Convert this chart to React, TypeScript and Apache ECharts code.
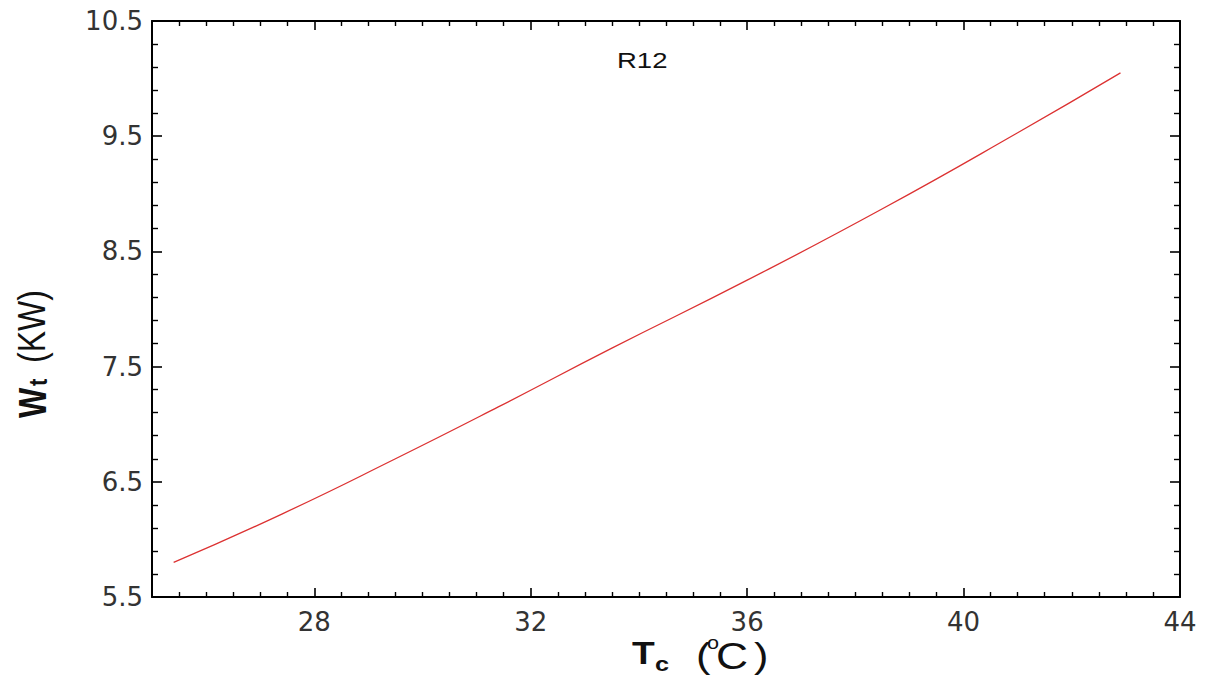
import React, { useEffect, useRef } from "react";
import * as echarts from "echarts";

// Condensing temperature Tc (°C) and turbine work Wt (kW) for R12
const tcValues = [25.4, 27.4, 29.5, 31.4, 33.5, 36.0, 38.5, 41.0, 42.9];
const wtValues = [5.8, 6.22, 6.7, 7.15, 7.66, 8.25, 8.87, 9.53, 10.05];

// Axis ranges and labelled ticks
const xTicks = [28, 32, 36, 40, 44];
const xRange = [25, 44];
const yTicks = [5.5, 6.5, 7.5, 8.5, 9.5, 10.5];

const fluidName = "R12";

const TEXT_FONT = "Liberation Sans, Arial, Helvetica, sans-serif";
const TICK_FONT = "DejaVu Sans, Verdana, sans-serif";

export default function App() {
  const ref = useRef<HTMLDivElement>(null);

  useEffect(() => {
    if (!ref.current) return;
    const chart = echarts.init(ref.current, null, { renderer: "svg" });

    const points = tcValues.map((t, i) => [t, wtValues[i]]);

    const axisLine = { show: true, onZero: false, lineStyle: { color: "#000", width: 2 } };

    const xBase = {
      type: "value" as const,
      min: xRange[0],
      max: xRange[1],
      splitNumber: 5,
      minInterval: 4,
      maxInterval: 4,
      axisLine,
      axisTick: { show: true, inside: true, length: 9, lineStyle: { color: "#000", width: 1.6 } },
      minorTick: { show: true, splitNumber: 8, length: 5, lineStyle: { color: "#000", width: 1.4 } },
      splitLine: { show: false },
      minorSplitLine: { show: false },
    };

    const yBase = {
      type: "value" as const,
      min: yTicks[0],
      max: yTicks[yTicks.length - 1],
      interval: 1,
      axisLine,
      axisTick: { show: true, inside: true, length: 10, lineStyle: { color: "#000", width: 1.6 } },
      minorTick: { show: true, splitNumber: 5, length: 6, lineStyle: { color: "#000", width: 1.4 } },
      splitLine: { show: false },
      minorSplitLine: { show: false },
    };

    const txt = (
      text: string,
      x: number,
      y: number,
      size: number,
      opts: { bold?: boolean; rotate?: boolean; stretch?: number } = {}
    ) => {
      const stretch = opts.stretch ?? 1.2;
      return {
        type: "text",
        x,
        y,
        rotation: opts.rotate ? Math.PI / 2 : 0,
        scaleX: opts.rotate ? 1 : stretch,
        scaleY: opts.rotate ? stretch : 1,
        silent: true,
        style: {
          text,
          fontFamily: TEXT_FONT,
          fontSize: size,
          fontWeight: opts.bold ? "bold" : "normal",
          fill: "#111",
          align: "left",
          verticalAlign: "middle",
          textAlign: "left",
          textVerticalAlign: "middle",
        },
      };
    };

    const option = {
      animation: false,
      backgroundColor: "#fff",
      grid: { left: 152, right: 27, top: 21, bottom: 79, containLabel: false },
      xAxis: [
        {
          ...xBase,
          position: "bottom",
          axisLabel: {
            show: true,
            margin: 12,
            fontFamily: TICK_FONT,
            fontSize: 26,
            color: "#333",
            formatter: (v: number) => (xTicks.includes(v) ? String(v) : ""),
          },
        },
        { ...xBase, position: "top", axisLabel: { show: false } },
      ],
      yAxis: [
        {
          ...yBase,
          position: "left",
          axisLabel: {
            show: true,
            margin: 9,
            fontFamily: TICK_FONT,
            fontSize: 26,
            color: "#333",
            formatter: (v: number) => v.toFixed(1),
          },
        },
        { ...yBase, position: "right", axisLabel: { show: false } },
      ],
      series: [
        {
          type: "line",
          xAxisIndex: 0,
          yAxisIndex: 0,
          data: points,
          smooth: true,
          showSymbol: false,
          symbol: "none",
          lineStyle: { color: "#dc3232", width: 1.3 },
        },
      ],
      graphic: [
        // series label
        txt(fluidName, 617, 60, 22, { stretch: 1.25 }),
        // x axis title: Tc (°C)
        txt("T", 632, 653, 31, { bold: true }),
        txt("c", 655, 664, 21, { bold: true }),
        txt("(", 696, 655, 36),
        txt("o", 707, 643, 18),
        txt("C", 716, 656, 37),
        txt(")", 754, 655, 36),
        // y axis title: Wt (KW), reading upward
        txt("W", 32, 418, 32, { bold: true, rotate: true }),
        txt("t", 38, 386, 22, { bold: true, rotate: true }),
        txt("(KW)", 31, 363, 32, { rotate: true }),
      ],
    };

    chart.setOption(option as any);
    return () => chart.dispose();
  }, []);

  return (
    <div
      ref={ref}
      style={{ position: "absolute", left: 0, top: 0, width: 1207, height: 676, background: "#fff" }}
    />
  );
}
